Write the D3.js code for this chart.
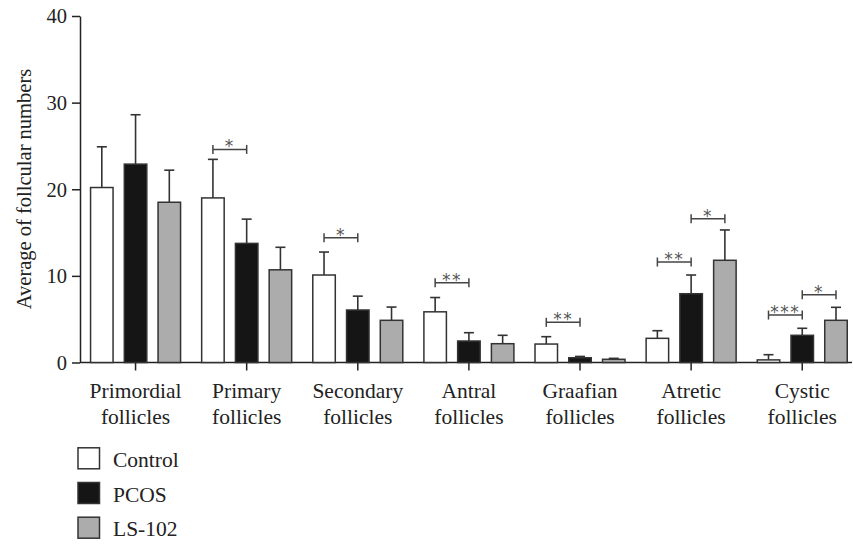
<!DOCTYPE html>
<html>
<head>
<meta charset="utf-8">
<script src="https://cdn.jsdelivr.net/npm/d3@7"></script>
<style>
  html, body { margin: 0; padding: 0; background: #fff; }
  svg { display: block; }
  svg text { font-family: 'Liberation Serif', 'Times New Roman', serif; }
  svg text.star { font-family: 'DejaVu Sans', sans-serif; }
</style>
</head>
<body>
<svg id="chart" width="853" height="546"></svg>
<script>
// ---- data ----
const categories = [["Primordial", "follicles"], ["Primary", "follicles"], ["Secondary", "follicles"],
  ["Antral", "follicles"], ["Graafian", "follicles"], ["Atretic", "follicles"], ["Cystic", "follicles"]];
const groups = ["Control", "PCOS", "LS-102"];
const controlMean = [20.2, 19.0, 10.1, 5.85, 2.13, 2.79, 0.3];
const controlErr  = [4.7, 4.45, 2.65, 1.65, 0.85, 0.88, 0.6];
const pcosMean    = [22.9, 13.75, 6.06, 2.48, 0.55, 7.94, 3.14];
const pcosErr     = [5.7, 2.8, 1.6, 0.96, 0.15, 2.16, 0.81];
const ls102Mean   = [18.5, 10.7, 4.87, 2.17, 0.37, 11.8, 4.87];
const ls102Err    = [3.7, 2.6, 1.53, 0.97, 0.11, 3.5, 1.5];
const yTicks = [0, 10, 20, 30, 40];
// significance brackets: category index, from group, to group, bracket height, label
const sigCat   = [1, 2, 3, 4, 5, 5, 6, 6];
const sigFrom  = [0, 0, 0, 0, 0, 1, 0, 1];
const sigTo    = [1, 1, 1, 1, 1, 2, 1, 2];
const sigY     = [24.6, 14.4, 9.2, 4.64, 11.6, 16.6, 5.48, 7.82];
const sigLabel = ["*", "*", "**", "**", "**", "*", "***", "*"];

const means = [controlMean, pcosMean, ls102Mean];
const errs = [controlErr, pcosErr, ls102Err];
const fills = ["#ffffff", "#151515", "#acacac"];

// ---- layout ----
const svg = d3.select("#chart");
const x0 = 80, x1 = 857.8, yBottom = 362.5, yTop = 16;
const x = d3.scaleBand().domain(d3.range(categories.length)).range([x0, x1]).padding(0);
const xs = d3.scaleBand().domain(d3.range(groups.length)).range([0, 90]).paddingInner(0.3333).paddingOuter(0);
const y = d3.scaleLinear().domain([0, 40]).range([yBottom, yTop]);

const bandC = i => x(i) + x.bandwidth() / 2;
const barX = (i, g) => bandC(i) - 45 + xs(g);
const barC = (i, g) => barX(i, g) + xs.bandwidth() / 2;
const SERIF = "'Liberation Serif', 'Times New Roman', serif";

// y axis
const yAxis = d3.axisLeft(y).tickValues(yTicks).tickSize(8).tickPadding(5).tickSizeOuter(0);
const ya = svg.append("g").attr("transform", `translate(${x0},0)`).call(yAxis)
  .attr("font-family", SERIF);
ya.select(".domain").attr("stroke", "#222").attr("stroke-width", 1.5);
ya.selectAll(".tick line").attr("stroke", "#222").attr("stroke-width", 1.5);
ya.selectAll(".tick text").attr("font-size", 20.5).attr("fill", "#222").attr("dy", "0.33em")
  .style("font-family", SERIF);

// x axis
const xa = svg.append("g").attr("transform", `translate(0,${yBottom})`)
  .call(d3.axisBottom(x).tickSize(8).tickSizeOuter(0).tickFormat(""));
xa.select(".domain").attr("stroke", "#222").attr("stroke-width", 1.5).attr("d", `M${x0},0H852`);
xa.selectAll(".tick line").attr("stroke", "#222").attr("stroke-width", 1.5);

// category labels
categories.forEach((c, i) => {
  const t = svg.append("text").attr("x", bandC(i)).attr("text-anchor", "middle")
    .attr("font-size", 21.5).attr("fill", "#222").style("font-family", SERIF);
  t.append("tspan").attr("x", bandC(i)).attr("y", 398).text(c[0]);
  t.append("tspan").attr("x", bandC(i)).attr("y", 424).text(c[1]);
});

// y title
svg.append("text").attr("transform", "translate(31,189) rotate(-90)")
  .attr("text-anchor", "middle").attr("font-size", 20.5).attr("fill", "#222")
  .style("font-family", SERIF)
  .text("Average of follcular numbers");

// bars + error bars
groups.forEach((gname, g) => {
  const gg = svg.append("g");
  means[g].forEach((m, i) => {
    const cx = barC(i, g);
    gg.append("line").attr("x1", cx).attr("x2", cx).attr("y1", y(m)).attr("y2", y(m + errs[g][i]))
      .attr("stroke", "#333").attr("stroke-width", 1.6);
    gg.append("line").attr("x1", cx - 5).attr("x2", cx + 5).attr("y1", y(m + errs[g][i])).attr("y2", y(m + errs[g][i]))
      .attr("stroke", "#333").attr("stroke-width", 1.6);
    gg.append("rect").attr("x", barX(i, g)).attr("width", xs.bandwidth())
      .attr("y", y(m)).attr("height", yBottom - y(m))
      .attr("fill", fills[g]).attr("stroke", "#333").attr("stroke-width", 1.5);
  });
});

// significance brackets
sigCat.forEach((c, k) => {
  const xa_ = barC(c, sigFrom[k]), xb = barC(c, sigTo[k]), yy = y(sigY[k]);
  const b = svg.append("g").attr("stroke", "#444").attr("stroke-width", 1.5);
  b.append("line").attr("x1", xa_).attr("x2", xb).attr("y1", yy).attr("y2", yy);
  b.append("line").attr("x1", xa_).attr("x2", xa_).attr("y1", yy - 4.5).attr("y2", yy + 4.5);
  b.append("line").attr("x1", xb).attr("x2", xb).attr("y1", yy - 4.5).attr("y2", yy + 4.5);
  svg.append("text").attr("class", "star").attr("x", (xa_ + xb) / 2).attr("y", yy + 3).attr("text-anchor", "middle")
    .attr("font-size", 17).attr("fill", "#555")
    .attr("letter-spacing", 1.5).text(sigLabel[k]);
});

// legend
groups.forEach((gname, g) => {
  const ly = 447.8 + g * 34.7;
  svg.append("rect").attr("x", 78).attr("y", ly).attr("width", 21.5).attr("height", 21)
    .attr("fill", fills[g]).attr("stroke", "#333").attr("stroke-width", 1.5);
  svg.append("text").attr("x", 113).attr("y", ly + 19).attr("font-size", 21.5).attr("fill", "#222")
    .style("font-family", SERIF).text(gname);
});
</script>
</body>
</html>
